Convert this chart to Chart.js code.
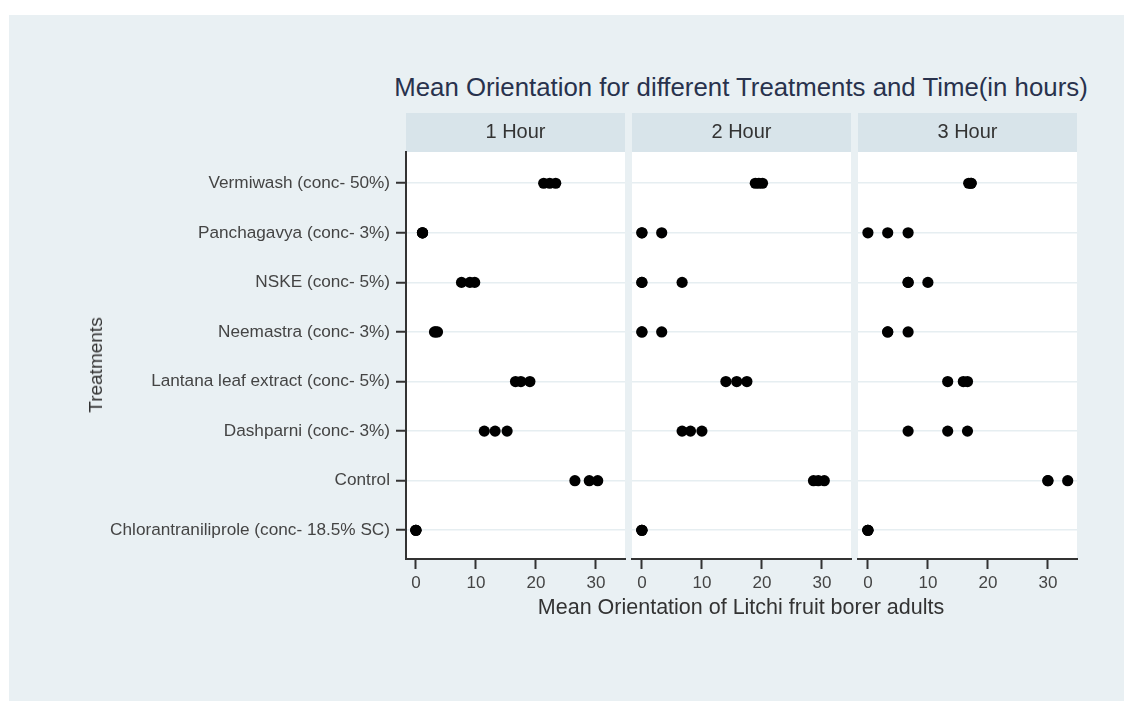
<!DOCTYPE html>
<html>
<head>
<meta charset="utf-8">
<script src="https://cdn.jsdelivr.net/npm/chart.js@4.4.1/dist/chart.umd.min.js"></script>
<style>
  html, body { margin: 0; padding: 0; background: #ffffff; }
  body { width: 1124px; height: 702px; position: relative; overflow: hidden; font-family: "Liberation Sans", Arial, sans-serif; }
  #bg { position: absolute; left: 9px; top: 15px; width: 1115px; height: 686px; background: #e9f0f3; }
  canvas { position: absolute; }
  #mainTitle { position: absolute; left: 341px; width: 800px; top: 72px; line-height: 30px; text-align: center; font-size: 25.8px; color: #28324d; white-space: nowrap; }
  #xTitle { position: absolute; left: 441px; width: 600px; top: 594px; line-height: 26px; text-align: center; font-size: 21.5px; color: #333333; white-space: nowrap; }
  #yTitle { position: absolute; left: 96px; top: 365px; width: 0; height: 0; }
  #yTitle span { position: absolute; left: 0; top: 0; transform: translate(-50%, -50%) rotate(-90deg); font-size: 19px; line-height: 22px; color: #333333; white-space: nowrap; }
</style>
</head>
<body>
<div id="bg"></div>
<div id="mainTitle">Mean Orientation for different Treatments and Time(in hours)</div>
<canvas id="c1" width="630" height="640" style="left:0px;top:0px"></canvas>
<canvas id="c2" width="223" height="640" style="left:630px;top:0px"></canvas>
<canvas id="c3" width="223" height="640" style="left:856px;top:0px"></canvas>
<div id="xTitle">Mean Orientation of Litchi fruit borer adults</div>
<div id="yTitle"><span>Treatments</span></div>
<script>
// ---- data ----
const categories = [
  "Vermiwash (conc- 50%)",
  "Panchagavya (conc- 3%)",
  "NSKE (conc- 5%)",
  "Neemastra (conc- 3%)",
  "Lantana leaf extract (conc- 5%)",
  "Dashparni (conc- 3%)",
  "Control",
  "Chlorantraniliprole (conc- 18.5% SC)"
];
const panelTitles = ["1 Hour", "2 Hour", "3 Hour"];
const xTickValues = [0, 10, 20, 30];
// replicate values per treatment (same order as categories)
const hour1Values = [
  [21.3, 22.3, 23.3],
  [1.1, 1.1, 1.1],
  [7.6, 9.0, 9.8],
  [3.1, 3.3, 3.6],
  [16.6, 17.5, 19.0],
  [11.4, 13.2, 15.2],
  [26.5, 28.9, 30.3],
  [0, 0, 0]
];
const hour2Values = [
  [18.9, 19.5, 20.1],
  [0, 0, 3.3],
  [0, 0, 6.7],
  [0, 0, 3.3],
  [14.0, 15.8, 17.5],
  [6.7, 8.1, 10.0],
  [28.6, 29.4, 30.4],
  [0, 0, 0]
];
const hour3Values = [
  [16.8, 17.2, 17.2],
  [0, 3.3, 6.7],
  [6.7, 6.7, 10.0],
  [3.3, 3.3, 6.7],
  [13.3, 15.9, 16.6],
  [6.7, 13.3, 16.6],
  [30.0, 30.0, 33.3],
  [0, 0, 0]
];

// ---- drawing ----
const FONT = "'Liberation Sans', Arial, sans-serif";
const panelBg = {
  id: 'panelBg',
  beforeDraw(chart) {
    const {ctx, chartArea} = chart;
    ctx.save();
    ctx.fillStyle = '#ffffff';
    ctx.fillRect(chartArea.left, chartArea.top, chartArea.right - chartArea.left, chartArea.bottom - chartArea.top);
    const tb = chart.titleBlock;
    if (tb) {
      ctx.fillStyle = '#d8e4ea';
      ctx.fillRect(chartArea.left, tb.top, chartArea.right - chartArea.left, tb.bottom - tb.top);
    }
    ctx.restore();
  }
};

function toPoints(values) {
  const pts = [];
  values.forEach((reps, i) => reps.forEach(v => pts.push({x: v, y: i + 1})));
  return pts;
}

function makeChart(id, title, values, first) {
  const ctx = document.getElementById(id);
  return new Chart(ctx, {
    type: 'scatter',
    data: {
      datasets: [{
        data: toPoints(values),
        backgroundColor: '#000000',
        borderColor: '#000000',
        borderWidth: 0,
        pointRadius: 5.6,
        pointHoverRadius: 5.6
      }]
    },
    plugins: [panelBg],
    options: {
      responsive: false,
      animation: false,
      devicePixelRatio: 1,
      layout: { autoPadding: false, padding: { left: first ? 75 : 2, right: first ? 5 : 2, top: 113, bottom: 41 } },
      plugins: {
        legend: { display: false },
        tooltip: { enabled: false },
        title: {
          display: true,
          text: title,
          fullSize: false,
          color: '#333333',
          font: { family: FONT, size: 20, weight: 'normal', lineHeight: 1.2 },
          padding: { top: 7.5, bottom: 7.5 }
        }
      },
      scales: {
        x: {
          type: 'linear',
          min: -1.65,
          max: 34.85,
          afterBuildTicks: (s) => { s.ticks = xTickValues.map(v => ({value: v})); },
          afterFit: (s) => { s.height = 40; },
          grid: { drawOnChartArea: false, drawTicks: true, tickLength: 10, tickColor: '#333333', tickWidth: 2 },
          border: { display: true, color: '#333333', width: 2 },
          ticks: { color: '#444444', padding: 4, maxRotation: 0, font: { family: FONT, size: 17 } }
        },
        y: {
          type: 'linear',
          reverse: true,
          min: 0.37,
          max: 8.58,
          afterBuildTicks: (s) => { s.ticks = categories.map((c, i) => ({value: i + 1})); },
          afterFit: (s) => { s.width = first ? 331 : 0; },
          grid: { color: '#e6eef1', lineWidth: 1.5, drawTicks: first, tickLength: 10, tickColor: '#333333', tickWidth: 2 },
          border: { display: first, color: '#333333', width: 2 },
          ticks: {
            display: first,
            color: '#444444',
            padding: 6,
            font: { family: FONT, size: 17.2 },
            callback: (v) => categories[v - 1]
          },
          title: { display: false }
        }
      }
    }
  });
}

makeChart('c1', panelTitles[0], hour1Values, true);
makeChart('c2', panelTitles[1], hour2Values, false);
makeChart('c3', panelTitles[2], hour3Values, false);
</script>
</body>
</html>
